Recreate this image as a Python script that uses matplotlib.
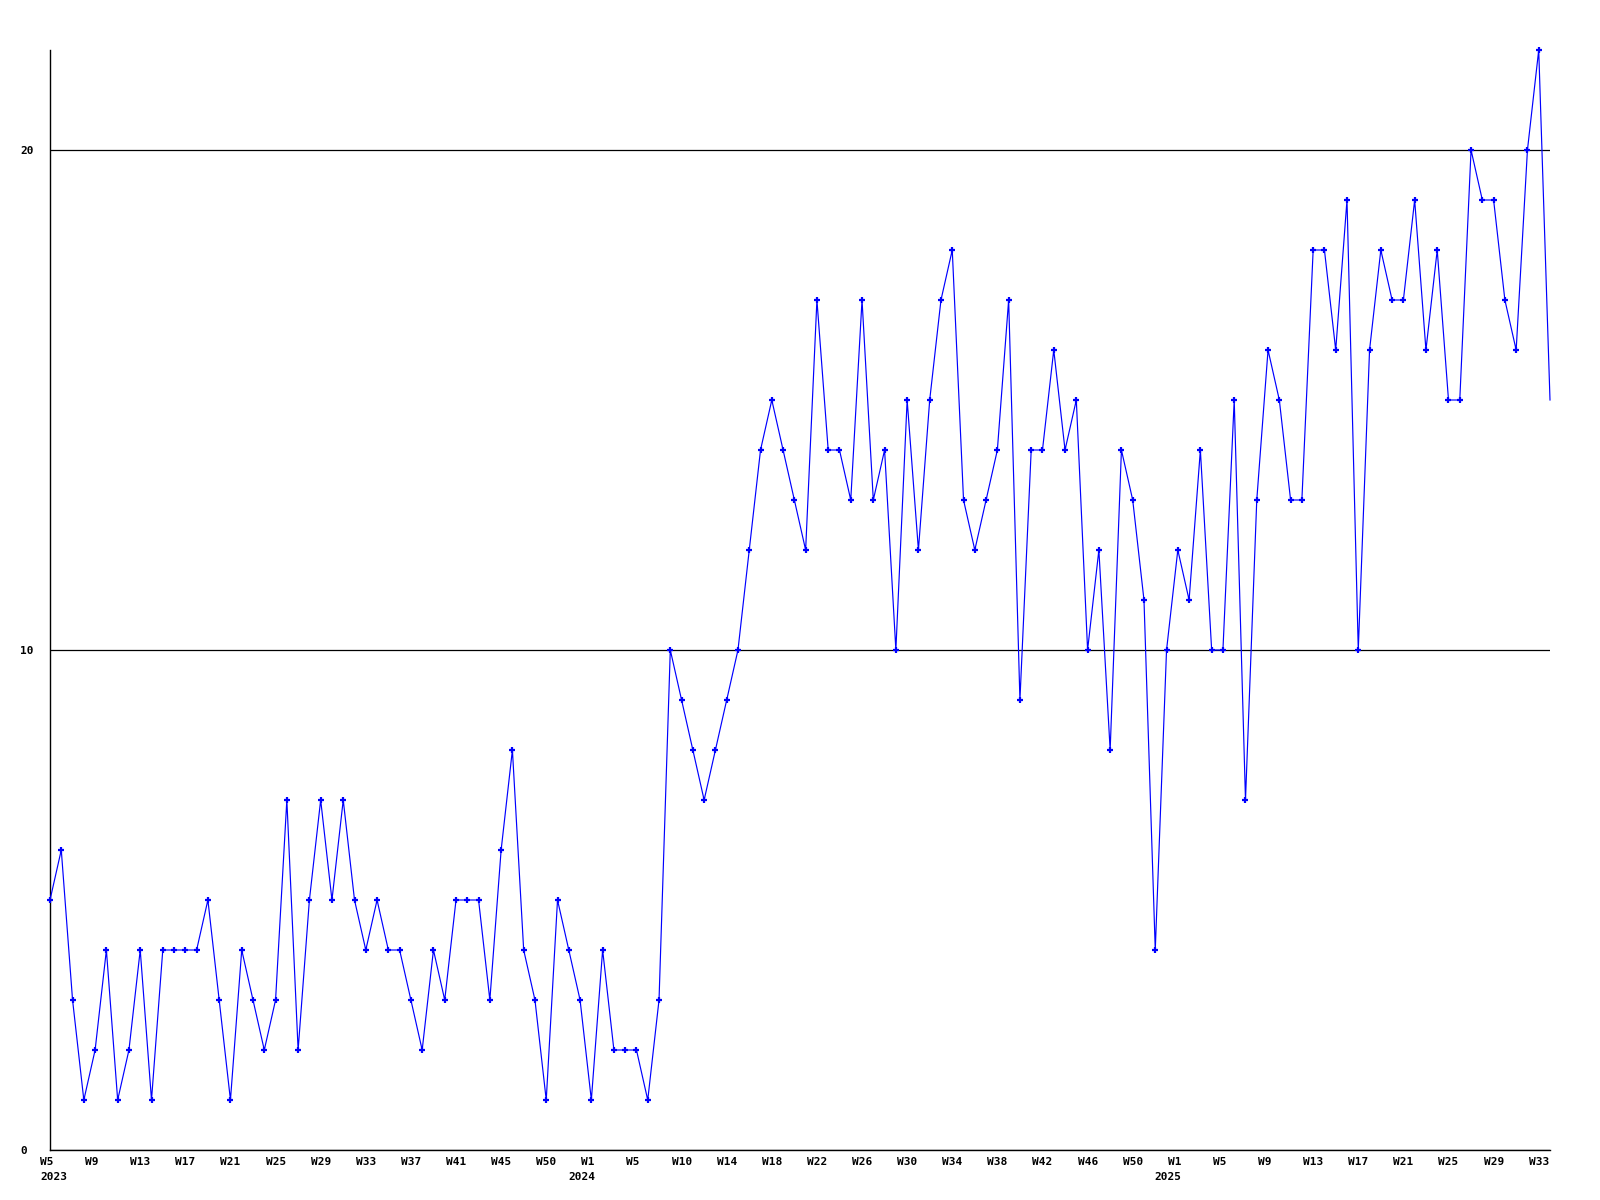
import matplotlib
matplotlib.use("Agg")
import matplotlib.pyplot as plt
import matplotlib.transforms as mtransforms

values = [5, 6, 3, 1, 2, 4, 1, 2, 4, 1,
          4, 4, 4, 4, 5, 3, 1, 4, 3, 2,
          3, 7, 2, 5, 7, 5, 7, 5, 4, 5,
          4, 4, 3, 2, 4, 3, 5, 5, 5, 3,
          6, 8, 4, 3, 1, 5, 4, 3, 1, 4,
          2, 2, 2, 1, 3, 10, 9, 8, 7, 8,
          9, 10, 12, 14, 15, 14, 13, 12, 17, 14,
          14, 13, 17, 13, 14, 10, 15, 12, 15, 17,
          18, 13, 12, 13, 14, 17, 9, 14, 14, 16,
          14, 15, 10, 12, 8, 14, 13, 11, 4, 10,
          12, 11, 14, 10, 10, 15, 7, 13, 16, 15,
          13, 13, 18, 18, 16, 19, 10, 16, 18, 17,
          17, 19, 16, 18, 15, 15, 20, 19, 19, 17,
          16, 20, 22, 15]

week_labels = ["W5", "W9", "W13", "W17", "W21", "W25", "W29", "W33", "W37",
               "W41", "W45", "W50", "W1", "W5", "W10", "W14", "W18", "W22",
               "W26", "W30", "W34", "W38", "W42", "W46", "W50", "W1", "W5",
               "W9", "W13", "W17", "W21", "W25", "W29", "W33"]
year_labels = {0: "2023", 12: "2024", 25: "2025"}  # label index -> year
label_step = 4
y_ticks = [0, 10, 20]

fig = plt.figure(figsize=(16, 12), dpi=100)
ax = fig.add_axes([50 / 1600, 1 - 1150 / 1200, 1500 / 1600, 1100 / 1200])

x = list(range(len(values)))
ax.plot(x, values, color="#0000ff", lw=0.85, marker="+", ms=3.8, mew=1.6,
        markevery=slice(0, len(values) - 1), clip_on=False, zorder=3)

ax.set_xlim(0, len(values) - 1)
ax.set_ylim(0, 22)

for s in ["top", "right"]:
    ax.spines[s].set_visible(False)
for s in ["left", "bottom"]:
    ax.spines[s].set_color("black")
    ax.spines[s].set_linewidth(1.0)

font = dict(family="DejaVu Sans Mono", weight="bold", size=8)

ax.set_yticks(y_ticks)
ax.set_yticklabels([str(v) for v in y_ticks], **font)
ax.yaxis.grid(True, color="black", lw=0.9)
ax.tick_params(axis="y", length=0, pad=21.5)
for lab in ax.get_yticklabels():
    lab.set_horizontalalignment("left")

tick_pos = [i * label_step for i in range(len(week_labels))]
ax.set_xticks(tick_pos)
ax.set_xticklabels(week_labels, **font)
ax.tick_params(axis="x", length=0, pad=5)
off = mtransforms.ScaledTranslation(-10 / 100, 0, fig.dpi_scale_trans)
for lab in ax.get_xticklabels():
    lab.set_horizontalalignment("left")
    lab.set_transform(lab.get_transform() + off)

blend = mtransforms.blended_transform_factory(ax.transData, ax.transAxes)
for li, yr in year_labels.items():
    shift = -10 if li == 0 else -23
    t = blend + mtransforms.ScaledTranslation(shift / 100, -22 / 100, fig.dpi_scale_trans)
    ax.text(li * label_step, 0, yr, transform=t, ha="left", va="top", **font)

ax.set_axisbelow(True)
fig.savefig("out.png", dpi=100, facecolor="white")
